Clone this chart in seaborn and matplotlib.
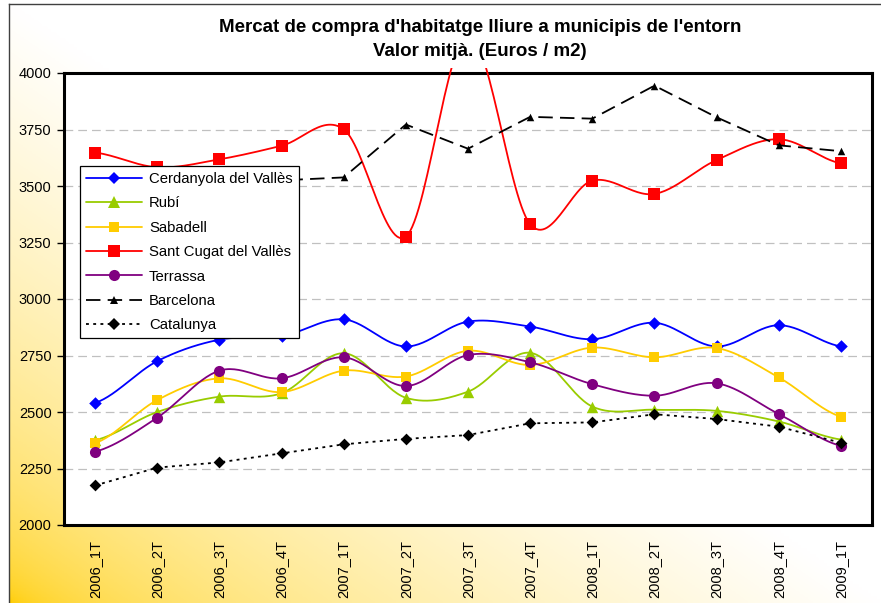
import numpy as np
import pandas as pd
import matplotlib; matplotlib.use("Agg")
import matplotlib.pyplot as plt
import seaborn as sns
from matplotlib.lines import Line2D
from matplotlib.patches import Rectangle

sns.set_theme(style="white")
plt.rcParams["font.family"] = ["Liberation Sans", "DejaVu Sans"]
plt.rcParams["text.color"] = "black"

# valors llegits del gràfic (Euros / m2)
quarters = ["2006_1T", "2006_2T", "2006_3T", "2006_4T", "2007_1T", "2007_2T", "2007_3T",
            "2007_4T", "2008_1T", "2008_2T", "2008_3T", "2008_4T", "2009_1T"]
cerdanyola = [2540, 2725, 2820, 2835, 2910, 2790, 2900, 2878, 2822, 2895, 2790, 2884, 2790]
rubi       = [2375, 2500, 2568, 2583, 2760, 2563, 2590, 2762, 2524, 2510, 2505, 2458, 2378]
sabadell   = [2362, 2553, 2649, 2588, 2683, 2657, 2771, 2708, 2785, 2742, 2783, 2653, 2479]
sant_cugat = [3648, 3583, 3618, 3678, 3751, 3276, 4170, 3331, 3524, 3465, 3615, 3707, 3600]
terrassa   = [2324, 2475, 2683, 2649, 2742, 2615, 2752, 2720, 2623, 2572, 2627, 2491, 2350]
barcelona  = [3420, 3470, 3500, 3525, 3538, 3772, 3665, 3806, 3798, 3944, 3804, 3680, 3654]
catalunya  = [2175, 2254, 2277, 2317, 2357, 2381, 2398, 2450, 2454, 2490, 2469, 2435, 2364]
y_ticks = [2000, 2250, 2500, 2750, 3000, 3250, 3500, 3750, 4000]

SERIES = [
    # label, values, color, marker, size, smooth, dashes
    ("Cerdanyola del Vallès", cerdanyola, "#0000FF", "D", 6.4, True,  None),
    ("Rubí",                  rubi,       "#99CC00", "^", 8.2, True,  None),
    ("Sabadell",              sabadell,   "#FFCC00", "s", 7.8, True,  None),
    ("Sant Cugat del Vallès", sant_cugat, "#FF0000", "s", 8.2, True,  None),
    ("Terrassa",              terrassa,   "#800080", "o", 8.0, True,  None),
    ("Barcelona",             barcelona,  "#000000", "^", 5.4, False, (8, 4)),
    ("Catalunya",             catalunya,  "#000000", "D", 6.0, False, (1.6, 2.4)),
]


def _smooth(vals, n=30):
    """corba suau tipus Excel (Catmull-Rom) entre els punts"""
    p = [vals[0]] + list(vals) + [vals[-1]]
    xs, ys = [], []
    t = np.linspace(0, 1, n)
    for i in range(len(vals) - 1):
        p0, p1, p2, p3 = p[i], p[i + 1], p[i + 2], p[i + 3]
        m1, m2 = (p2 - p0) / 2, (p3 - p1) / 2
        h00 = 2 * t**3 - 3 * t**2 + 1
        h10 = t**3 - 2 * t**2 + t
        h01 = -2 * t**3 + 3 * t**2
        h11 = t**3 - t**2
        xs.append(i + t)
        ys.append(h00 * p1 + h10 * m1 + h01 * p2 + h11 * m2)
    return np.concatenate(xs), np.concatenate(ys)


W, H = 881, 603
fig = plt.figure(figsize=(W / 100, H / 100), dpi=100, facecolor="white")

# fons amb degradat daurat -> blanc
bg = fig.add_axes([9 / W, 0, 1 - 9 / W, 1 - 4 / H], zorder=-10)
u = np.linspace(0, 1, 300)[None, :]
v = np.linspace(0, 1, 200)[:, None]
s = np.clip(u + v, 0, 1) ** 0.5
gold = np.array([1.0, 0.80, 0.0])
grad = gold[None, None, :] * (1 - s[..., None]) + np.ones(3)[None, None, :] * s[..., None]
bg.imshow(grad, aspect="auto", extent=[0, 1, 0, 1], origin="lower")
bg.set_xlim(0, 1); bg.set_ylim(0, 1)
bg.set_xticks([]); bg.set_yticks([])
for side in ["right", "bottom"]:
    bg.spines[side].set_visible(False)
for side in ["left", "top"]:
    bg.spines[side].set_color("#404040")
    bg.spines[side].set_linewidth(1.0)

ax = fig.add_axes([64 / W, 1 - 525 / H, 808 / W, 452 / H], zorder=1)
ax.set_facecolor("white")

idx = np.arange(len(quarters))
handles = []
for k, (label, vals, color, marker, ms, smooth, dashes) in enumerate(SERIES):
    z = 3 + k * 0.1
    if smooth:
        xs, ys = _smooth(vals)
    else:
        xs, ys = idx, np.array(vals)
    sns.lineplot(x=xs, y=ys, sort=False, estimator=None, color=color,
                 linewidth=1.3, ax=ax, zorder=z)
    line = ax.lines[-1]
    if dashes is not None:
        line.set_linestyle((0, dashes))
    if label == "Sant Cugat del Vallès":
        # el pic de 2007_3T surt per sobre de l'àrea del gràfic
        clip = Rectangle((0, 0), 1, 1.011, transform=ax.transAxes)
        line.set_clip_path(clip)
    sns.scatterplot(x=idx, y=vals, marker=marker, s=ms**2, color=color,
                    edgecolor=color, linewidth=0, ax=ax, zorder=z + 0.05)
    handles.append(Line2D([], [], color=color, lw=1.3, marker=marker, markersize=ms,
                          markeredgewidth=0,
                          linestyle=(0, dashes) if dashes is not None else "-"))

ax.set_xlim(-0.5, len(quarters) - 0.5)
ax.set_ylim(2000, 4000)
ax.set_yticks(y_ticks)
ax.set_yticklabels([str(t) for t in y_ticks], fontsize=10.5, color="black")
ax.set_xticks(idx)
ax.set_xticklabels(quarters, rotation=90, fontsize=10.5, color="black")
ax.set_xticks(np.arange(len(quarters) + 1) - 0.5, minor=True)
ax.tick_params(axis="x", which="major", length=0, pad=11)
ax.tick_params(axis="x", which="minor", length=5, width=1, color="black", direction="out")
ax.tick_params(axis="y", which="major", length=5, width=1, color="black",
               direction="out", pad=4, left=True)
ax.set_xlabel("")
ax.set_ylabel("")
ax.yaxis.grid(True, linestyle=(0, (7, 4)), color="#C0C0C0", linewidth=0.9)
ax.set_axisbelow(True)
for side in ["left", "right", "top", "bottom"]:
    ax.spines[side].set_color("black")
    ax.spines[side].set_linewidth(2.2)
    ax.spines[side].set_visible(True)

leg = ax.legend(handles, [sr[0] for sr in SERIES], loc="upper left",
                bbox_to_anchor=(16 / 808, (525 - 166) / 452), borderaxespad=0,
                fontsize=10.7, frameon=True, fancybox=False, framealpha=1,
                edgecolor="black", handlelength=3.8, handletextpad=0.45,
                labelspacing=0.7, borderpad=0.4)
leg.get_frame().set_linewidth(0.9)
leg.set_zorder(20)

fig.text(480 / W, 1 - 28 / H, "Mercat de compra d'habitatge lliure a municipis de l'entorn",
         ha="center", va="center", fontsize=13.5, fontweight="bold", color="black")
fig.text(480 / W, 1 - 52 / H, "Valor mitjà. (Euros / m2)",
         ha="center", va="center", fontsize=13.5, fontweight="bold", color="black")

fig.savefig("out.png", dpi=100)
